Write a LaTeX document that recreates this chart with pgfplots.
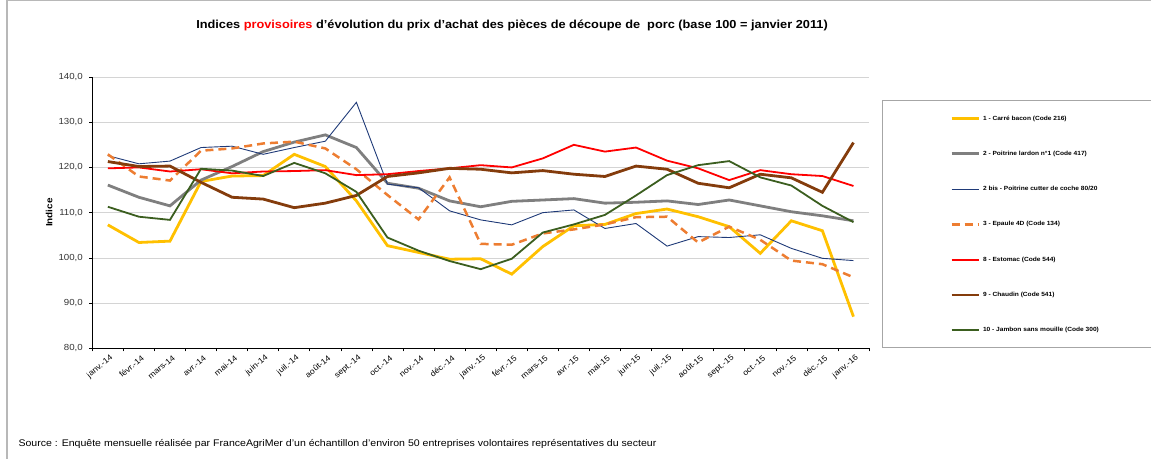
\documentclass[border=0pt]{standalone}
\usepackage{fontspec}
\setmainfont{Liberation Sans}[FakeStretch=1.1]
\usepackage{pgfplots}
\pgfplotsset{compat=1.18}
\definecolor{cYellow}{HTML}{FFC000}
\definecolor{cGray}{HTML}{7F7F7F}
\definecolor{cBlue}{HTML}{1F3A78}
\definecolor{cOrange}{HTML}{ED7D31}
\definecolor{cRed}{HTML}{FF0000}
\definecolor{cBrown}{HTML}{843C0C}
\definecolor{cGreen}{HTML}{3B5E1F}
\begin{document}
\begin{tikzpicture}
\path[use as bounding box] (0pt,0pt) rectangle (1151pt,458pt);
\draw[color=black!28, line width=1.5pt] (7pt,-5pt) -- (7pt,457.3pt) -- (1160pt,457.3pt);
\draw[color=black!35, line width=0.8pt] (882pt,110.7pt) rectangle (1170pt,357.3pt);
\node[font=\bfseries\fontsize{11.6}{13}\selectfont, anchor=base] at (512pt,429.7pt) {Indices \textcolor{red}{provisoires} d'évolution du prix d'achat des pièces de découpe de\ \ porc (base 100 = janvier 2011)};
\node[font=\fontsize{9.6}{11}\selectfont, anchor=base west] at (15pt,12pt) {Source : Enquête mensuelle réalisée par FranceAgriMer d'un échantillon d'environ 50 entreprises volontaires représentatives du secteur};
\begin{axis}[
  at={(92.3pt,109.7pt)}, anchor=south west, scale only axis,
  width=776.7pt, height=271.3pt,
  xmin=-0.5, xmax=24.5, ymin=80, ymax=140,
  axis x line*=bottom, axis y line*=left,
  axis line style={black, line width=0.9pt},
  xtick={-0.5,0.5,...,24.5}, xticklabels={},
  extra x ticks={0,1,...,24},
  extra x tick labels={janv.-14,févr.-14,mars-14,avr.-14,mai-14,juin-14,juil.-14,août-14,sept.-14,oct.-14,nov.-14,déc.-14,janv.-15,févr.-15,mars-15,avr.-15,mai-15,juin-15,juil.-15,août-15,sept.-15,oct.-15,nov.-15,déc.-15,janv.-16},
  extra x tick style={major tick length=0pt, grid=none},
  x tick label style={rotate=40, anchor=east, font=\fontsize{8}{9}\selectfont, yshift=-9pt, xshift=1pt},
  ytick={80,90,...,140},
  ymajorgrids, grid style={color=black!17, line width=0.7pt},
  tick align=outside, major tick length=3pt, tick style={black, line width=0.6pt},
  y tick label style={font=\fontsize{8.8}{10}\selectfont, color=black!80, xshift=-3pt},
  yticklabel style={/pgf/number format/.cd, fixed, fixed zerofill, precision=1, use comma},
  /pgf/number format/assume math mode=true,
  ylabel={Indice},
  ylabel style={font=\bfseries\fontsize{9}{11}\selectfont, at={(axis description cs:-0.0557,0.5)}, anchor=center, rotate=0},
  legend style={at={(axis description cs:1.1043,0.8588)}, anchor=north west, draw=none, fill=none,
    font=\bfseries\fontsize{6}{7}\selectfont, inner sep=0pt, row sep=29.3pt, column sep=3pt,
    nodes={inner sep=0pt, text height=4.5pt, text depth=1.5pt}},
  legend cell align=left,
  legend image code/.code={\draw[#1] (0pt,0pt) -- (27pt,0pt);},
  no markers, sharp plot,
]
\addplot[cYellow, line width=2.8pt] coordinates {(0,107.3)(1,103.4)(2,103.7)(3,116.9)(4,118.1)(5,118.2)(6,122.9)(7,120.2)(8,112.6)(9,102.7)(10,101.2)(11,99.7)(12,99.8)(13,96.4)(14,102.5)(15,107.1)(16,107.4)(17,109.8)(18,110.8)(19,109.1)(20,106.9)(21,101.0)(22,108.2)(23,106.0)(24,87.0)};
\addlegendentry{1 - Carré bacon (Code 216)}
\addplot[cGray, line width=2.8pt] coordinates {(0,116.1)(1,113.4)(2,111.5)(3,117.2)(4,120.2)(5,123.5)(6,125.6)(7,127.2)(8,124.4)(9,116.5)(10,115.4)(11,112.6)(12,111.3)(13,112.5)(14,112.8)(15,113.1)(16,112.1)(17,112.3)(18,112.6)(19,111.8)(20,112.8)(21,111.5)(22,110.2)(23,109.3)(24,108.2)};
\addlegendentry{2 - Poitrine lardon n°1 (Code 417)}
\addplot[cBlue, line width=0.9pt] coordinates {(0,122.6)(1,120.8)(2,121.4)(3,124.4)(4,124.7)(5,122.9)(6,124.4)(7,125.8)(8,134.4)(9,116.3)(10,115.5)(11,110.4)(12,108.4)(13,107.3)(14,110.0)(15,110.6)(16,106.5)(17,107.6)(18,102.6)(19,104.7)(20,104.5)(21,105.1)(22,102.1)(23,99.9)(24,99.4)};
\addlegendentry{2 bis - Poitrine cutter de coche 80/20}
\addplot[cOrange, line width=2.5pt, dash pattern=on 8pt off 5pt] coordinates {(0,122.9)(1,118.0)(2,117.1)(3,123.7)(4,124.2)(5,125.3)(6,125.7)(7,124.2)(8,119.6)(9,113.9)(10,108.5)(11,117.8)(12,103.1)(13,102.9)(14,105.4)(15,106.3)(16,107.4)(17,109.0)(18,109.1)(19,103.4)(20,106.9)(21,104.0)(22,99.4)(23,98.6)(24,95.7)};
\addlegendentry{3 - Epaule 4D (Code 134)}
\addplot[cRed, line width=1.8pt] coordinates {(0,119.8)(1,120.0)(2,119.1)(3,119.6)(4,118.7)(5,119.1)(6,119.2)(7,119.4)(8,118.3)(9,118.5)(10,119.2)(11,119.8)(12,120.5)(13,120.0)(14,122.0)(15,125.0)(16,123.5)(17,124.4)(18,121.5)(19,119.8)(20,117.2)(21,119.4)(22,118.5)(23,118.1)(24,115.9)};
\addlegendentry{8 - Estomac (Code 544)}
\addplot[cBrown, line width=2.8pt] coordinates {(0,121.3)(1,120.2)(2,120.3)(3,116.7)(4,113.4)(5,113.0)(6,111.1)(7,112.1)(8,113.8)(9,118.0)(10,118.8)(11,119.8)(12,119.6)(13,118.8)(14,119.3)(15,118.5)(16,118.0)(17,120.3)(18,119.6)(19,116.5)(20,115.5)(21,118.5)(22,117.7)(23,114.5)(24,125.5)};
\addlegendentry{9 - Chaudin (Code 541)}
\addplot[cGreen, line width=1.8pt] coordinates {(0,111.3)(1,109.1)(2,108.4)(3,119.7)(4,119.3)(5,118.1)(6,121.0)(7,118.7)(8,114.6)(9,104.5)(10,101.6)(11,99.3)(12,97.5)(13,99.8)(14,105.6)(15,107.4)(16,109.5)(17,113.8)(18,118.3)(19,120.5)(20,121.4)(21,117.8)(22,116.0)(23,111.5)(24,107.9)};
\addlegendentry{10 - Jambon sans mouille (Code 300)}
\end{axis}
\end{tikzpicture}
\end{document}
